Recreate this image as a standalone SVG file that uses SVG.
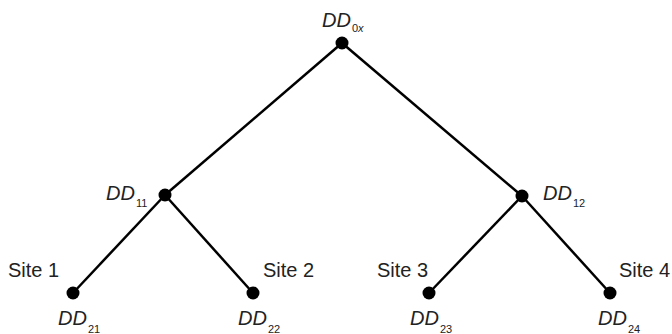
<svg xmlns="http://www.w3.org/2000/svg" width="672" height="334" viewBox="0 0 672 334">
<style>
.e{stroke:#000;stroke-width:2.5;fill:none}
.d{fill:#000}
.t{font-family:"Liberation Sans",Arial,sans-serif;font-size:20px;fill:#222}
.i{font-style:italic}
.s{font-size:11px;font-style:normal}
</style>
<rect width="672" height="334" fill="#fff"/>
<g id="connectors">
<line class="e" x1="342" y1="43" x2="165" y2="195"/>
<line class="e" x1="342" y1="43" x2="522" y2="196"/>
<line class="e" x1="165" y1="195" x2="73" y2="293"/>
<line class="e" x1="165" y1="195" x2="253" y2="293"/>
<line class="e" x1="522" y1="196" x2="429" y2="293"/>
<line class="e" x1="522" y1="196" x2="610" y2="293"/>
</g>
<g id="DD0x"><circle class="d" cx="342" cy="43" r="6.5"/><text class="t i" x="322" y="27">DD<tspan class="s" dx="1" dy="5">0<tspan class="i">x</tspan></tspan></text></g>
<g id="DD11"><circle class="d" cx="165" cy="195" r="6.5"/><text class="t i" x="106" y="200">DD<tspan class="s" dx="1" dy="7">11</tspan></text></g>
<g id="DD12"><circle class="d" cx="522" cy="196" r="6.5"/><text class="t i" x="543" y="200">DD<tspan class="s" dx="1" dy="7">12</tspan></text></g>
<g id="DD21"><circle class="d" cx="73" cy="293" r="6.5"/><text class="t" x="8" y="277">Site 1</text><text class="t i" x="58" y="325">DD<tspan class="s" dx="1" dy="8">21</tspan></text></g>
<g id="DD22"><circle class="d" cx="253" cy="293" r="6.5"/><text class="t" x="263" y="277">Site 2</text><text class="t i" x="238" y="325">DD<tspan class="s" dx="1" dy="8">22</tspan></text></g>
<g id="DD23"><circle class="d" cx="429" cy="293" r="6.5"/><text class="t" x="377" y="277">Site 3</text><text class="t i" x="410" y="325">DD<tspan class="s" dx="1" dy="8">23</tspan></text></g>
<g id="DD24"><circle class="d" cx="610" cy="293" r="6.5"/><text class="t" x="619" y="277">Site 4</text><text class="t i" x="598" y="325">DD<tspan class="s" dx="1" dy="8">24</tspan></text></g>
</svg>
